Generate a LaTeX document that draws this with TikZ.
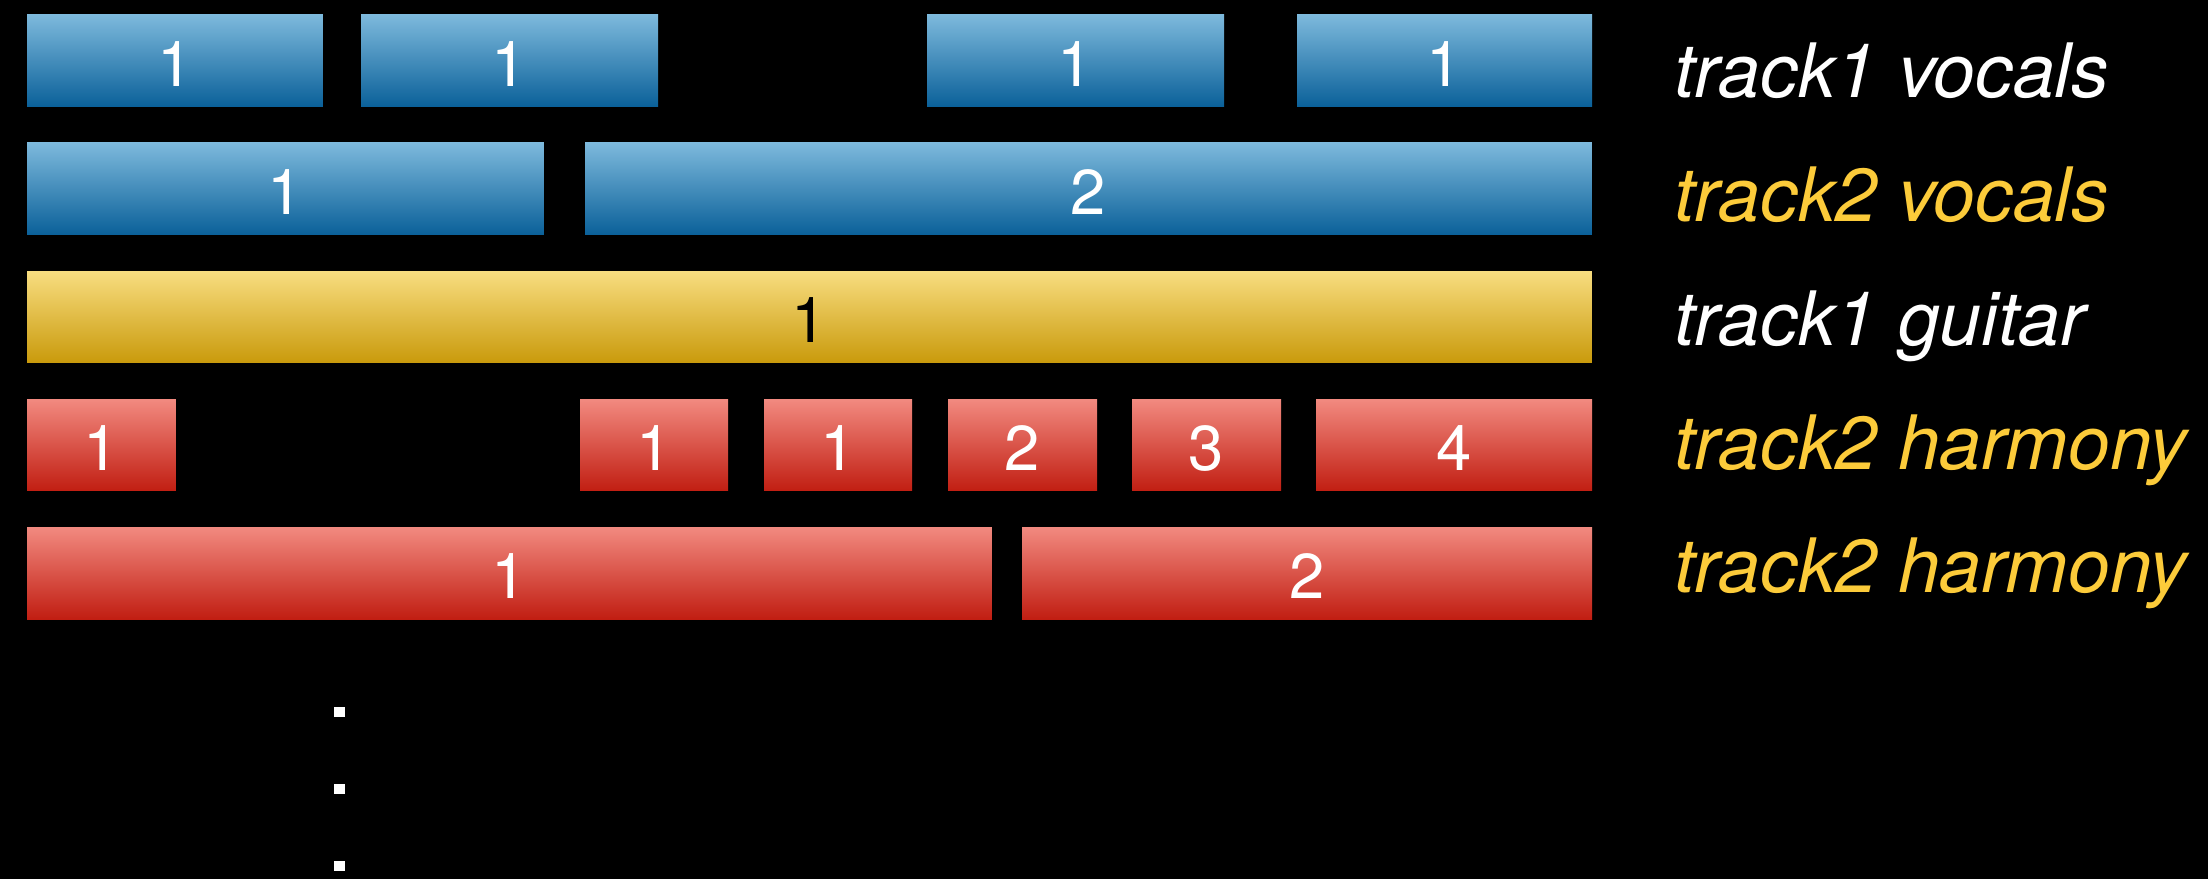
\documentclass[tikz,border=0pt]{standalone}
\usepackage{fontspec}
\setmainfont{TeX Gyre Heros}
\definecolor{bluetop}{HTML}{7DB9DC}
\definecolor{bluebot}{HTML}{0A6099}
\definecolor{yeltop}{HTML}{F8DD80}
\definecolor{yelbot}{HTML}{C99A0B}
\definecolor{redtop}{HTML}{F28A80}
\definecolor{redbot}{HTML}{C11E12}
\definecolor{labyellow}{HTML}{FCCB3A}
\def\u{0.0071014}
\tikzset{
  seg/.style={rectangle, inner sep=0pt, outer sep=0pt, draw=none,
    minimum height={92*\u cm}, font=\fontsize{12.8pt}{14pt}\selectfont, text=white},
  blueseg/.style={seg, top color=bluetop, bottom color=bluebot},
  yelseg/.style={seg, top color=yeltop, bottom color=yelbot, text=black},
  redseg/.style={seg, top color=redtop, bottom color=redbot},
  lab/.style={anchor=base west, inner sep=0pt, font=\fontsize{15.15pt}{18pt}\selectfont\itshape},
  dot/.style={fill=white, minimum width={11*\u cm}, minimum height={10*\u cm}, inner sep=0pt, draw=none}
}
% #1 style, #2 name, #3 x1, #4 x2, #5 top, #6 text
\newcommand{\seg}[6]{\node[#1, minimum width={(#4-#3)*\u cm}] (#2) at ({(#3+#4)/2*\u}, {-(#5+46)*\u}) {\vphantom{#6}\smash{\lower0.025cm\hbox{#6}}};}
\begin{document}
\begin{tikzpicture}
\fill[black] (0,0) rectangle ({2208*\u}, {-879*\u});
\useasboundingbox (0,0) rectangle ({2208*\u}, {-879*\u});
% row 1
\seg{blueseg}{a1}{27}{323}{15}{1}
\seg{blueseg}{a2}{361}{658}{15}{1}
\seg{blueseg}{a3}{927}{1224}{15}{1}
\seg{blueseg}{a4}{1297}{1592}{15}{1}
% row 2
\seg{blueseg}{b1}{27}{544}{143}{1}
\seg{blueseg}{b2}{585}{1592}{143}{2}
% row 3
\seg{yelseg}{c1}{27}{1592}{271}{1}
% row 4
\seg{redseg}{d1}{27}{176}{399}{1}
\seg{redseg}{d2}{580}{728}{399}{1}
\seg{redseg}{d3}{764}{912}{399}{1}
\seg{redseg}{d4}{948}{1097}{399}{2}
\seg{redseg}{d5}{1132}{1281}{399}{3}
\seg{redseg}{d6}{1316}{1592}{399}{4}
% row 5
\seg{redseg}{e1}{27}{992}{527}{1}
\seg{redseg}{e2}{1022}{1592}{527}{2}
% labels
\node[lab, text=white] (l1) at ({1673*\u}, {-98*\u}) {track1 vocals};
\node[lab, text=labyellow] (l2) at ({1673*\u}, {-222*\u}) {track2 vocals};
\node[lab, text=white] (l3) at ({1673*\u}, {-346*\u}) {track1 guitar};
\node[lab, text=labyellow] (l4) at ({1673*\u}, {-469*\u}) {track2 harmony};
\node[lab, text=labyellow] (l5) at ({1673*\u}, {-592*\u}) {track2 harmony};
% dots
\node[dot] (p1) at ({339.5*\u}, {-712*\u}) {};
\node[dot] (p2) at ({339.5*\u}, {-789*\u}) {};
\node[dot] (p3) at ({339.5*\u}, {-866*\u}) {};
\end{tikzpicture}
\end{document}
